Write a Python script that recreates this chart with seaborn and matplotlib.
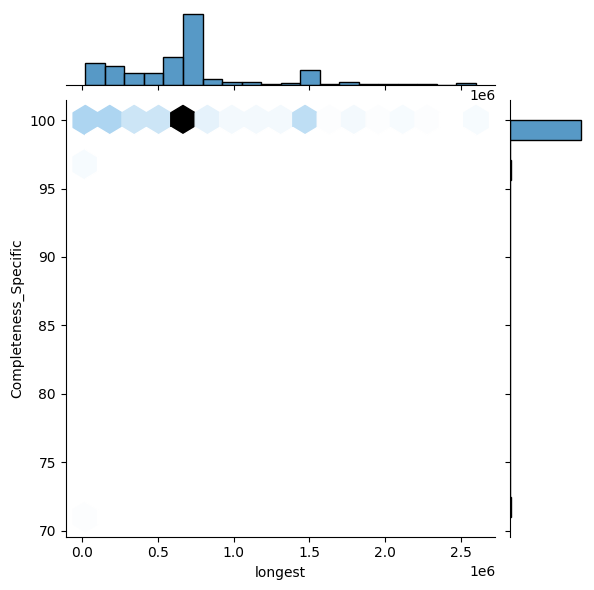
import numpy as np
import pandas as pd
import matplotlib
matplotlib.use("Agg")
import matplotlib.pyplot as plt
import seaborn as sns

# Bin centres of "longest" and how many records fall in each
longest_centres = [0.1e6, 0.2e6, 0.33e6, 0.5e6, 0.6e6, 0.73e6, 0.86e6, 1.0e6, 1.13e6,
                   1.26e6, 1.39e6, 1.52e6, 1.66e6, 1.79e6, 1.92e6, 2.05e6, 2.19e6,
                   2.32e6, 2.45e6, 2.6e6]
longest_counts = [19, 19, 12, 12, 28, 72, 6, 3, 3, 1, 2, 15, 1, 3, 1, 1, 1, 1, 0, 2]

# A few records near x=0 are not fully complete
low_x = [0.02e6, 0.03e6, 0.04e6]
low_y = [97.0, 97.0, 71.0]

x = list(np.repeat(longest_centres, longest_counts)) + low_x
y = [100.0] * sum(longest_counts) + low_y
df = pd.DataFrame({"longest": x, "Completeness_Specific": y})

g = sns.jointplot(data=df, x="longest", y="Completeness_Specific", kind="hex",
                  height=6, joint_kws=dict(gridsize=16),
                  marginal_kws=dict(bins=20))
g.savefig("out.png", dpi=100)
